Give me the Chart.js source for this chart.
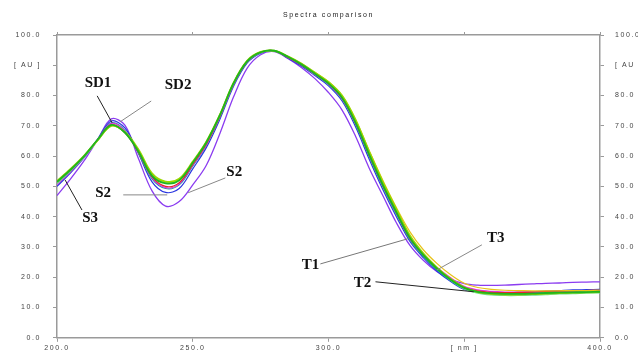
<!DOCTYPE html>
<html>
<head>
<meta charset="utf-8">
<script src="https://cdn.jsdelivr.net/npm/chart.js@4.4.1/dist/chart.umd.min.js"></script>
<style>
html,body{margin:0;padding:0;background:#fff;}
#wrap{width:638px;height:354px;position:relative;}
</style>
</head>
<body>
<div id="wrap"><canvas id="c" width="638" height="354"></canvas></div>
<script>
// ---- data ----
const wavelengths = [200,205,210,215,220,225,230,235,240,245,250,255,260,265,270,275,280,285,290,295,300,305,310,315,320,325,330,335,340,345,350,355,360,365,370,375,380,385,390,395,400];
const xTickLabels = {200:"200.0",250:"250.0",300:"300.0",350:"[ nm ]",400:"400.0"};
const yTickLabels = {0:"0.0",10:"10.0",20:"20.0",30:"30.0",40:"40.0",50:"50.0",60:"60.0",70:"70.0",80:"80.0",90:"[ AU ]",100:"100.0"};
const titleText = "Spectra comparison";

const seriesGreen   = [51.5,55.5,60,65.5,70.3,67.8,61.5,53.5,51,52,57.8,64.5,73.5,84,91.3,94.3,94.8,92.8,90.3,87.2,84,79.3,71,60.5,50.5,41.5,33,27.3,22.8,19.2,16.5,15.2,14.7,14.5,14.5,14.6,14.8,14.9,15,15.1,15.2];
const seriesLime    = [51.8,55.8,60.2,65.3,70,68,62.2,54.3,51.6,52.5,58.2,64.8,73.7,84.2,91.5,94.4,94.8,93,90.6,87.6,84.5,80,72,61.5,51.5,42.5,33.8,27.8,23.2,19.4,16.6,15.1,14.5,14.3,14.3,14.4,14.6,14.8,14.9,15,15.1];
const seriesLtGreen = [51,55.2,59.8,65.2,70.1,67.8,61.8,53.8,51.2,52.2,57.9,64.6,73.5,84,91.3,94.3,94.8,92.9,90.4,87.3,84.2,79.6,71.4,61,51,42,33.4,27.4,22.8,19,16.2,14.8,14.2,14,14,14.1,14.3,14.5,14.6,14.8,14.9];
const seriesYellow  = [51.3,55.4,59.9,65.1,70,67.8,62,54,51.3,52.3,58,64.6,73.6,84.1,91.4,94.4,94.8,93,90.6,87.6,84.6,80,72,61.8,52,43,35,29,24.5,20.8,18,16.6,16,15.7,15.6,15.5,15.5,15.5,15.6,15.6,15.7];
const seriesRed     = [51.3,55.4,60,65.4,70.4,67.8,61.3,53.2,50,51.2,57.3,64,73.2,83.8,91.2,94.2,94.8,92.7,90.2,87.2,84,79.2,70.9,60.4,50.4,41.4,32.8,27.2,22.8,19.4,16.7,15.5,15,14.9,15,15.1,15.3,15.4,15.5,15.6,15.7];
const seriesMagenta = [50.6,54.9,59.7,65.4,70.8,68.3,61.2,52.8,49.6,50.8,57,63.7,73,83.6,91.1,94.2,94.8,92.6,90.1,87,83.8,79,70.7,60.2,50.2,41.2,32.8,27.4,23.2,19.8,17,15.8,15.3,15.1,15.1,15.2,15.3,15.4,15.5,15.6,15.7];
const seriesTeal    = [51,55.2,59.8,65.5,71,68.5,61,52.5,49.3,50.5,56.8,63.5,72.8,83.5,91,94.1,94.8,92.6,90.1,87,83.7,78.8,70.4,59.8,49.8,40.8,32.3,26.8,22.4,18.9,16.2,15.1,14.7,14.7,14.8,14.9,15.1,15.3,15.4,15.6,15.8];
const seriesBlue    = [50,54.5,59.5,65.6,71.6,69.3,60.9,51.5,48,49.3,55.8,62.8,72.2,83,90.7,94,94.8,92.4,89.8,86.6,83.2,78.2,69.6,59,49,40,31.8,26.4,22,18.6,16,15.2,14.9,14.9,15,15.2,15.4,15.6,15.8,15.9,16];
const seriesPurple  = [47,52.5,58.5,65.5,72.3,70.2,59.2,48.5,43.5,45,50.5,57,67.5,79.5,89,93.5,94.5,92.3,89.3,85.6,81,75.2,66.5,56,47,38,30.5,25.5,21.8,19.3,17.9,17.4,17.3,17.4,17.6,17.8,18,18.1,18.3,18.4,18.5];

// annotation labels: text, text anchor [nm, AU], pointer from / to [nm, AU]
const annotations = [
  {text:"SD1", at:[215.1,84.2], from:[214.8,79.9], to:[220.3,71.0], line:"#222"},
  {text:"SD2", at:[244.6,83.5], from:[234.7,78.2], to:[223.2,71.3], line:"#888"},
  {text:"S2",  at:[217.0,47.9], from:[224.4,47.2], to:[240.6,47.2], line:"#888"},
  {text:"S2",  at:[265.3,54.8], from:[262.0,52.8], to:[248.3,47.9], line:"#888"},
  {text:"S3",  at:[212.2,39.6], from:[209.2,42.2], to:[203.0,52.1], line:"#222"},
  {text:"T1",  at:[293.4,24.1], from:[297.0,24.4], to:[329.2,32.7], line:"#777"},
  {text:"T2",  at:[312.5,18.2], from:[317.3,18.5], to:[353.5,15.2], line:"#222"},
  {text:"T3",  at:[361.6,33.0], from:[356.5,30.7], to:[339.9,22.4], line:"#888"}
];

// ---- styles ----
const seriesList = [
  {v:seriesGreen,   c:"#1fb51f", w:1.8},
  {v:seriesLime,    c:"#9bd800", w:1.8},
  {v:seriesLtGreen, c:"#6fdc8f", w:1.4},
  {v:seriesYellow,  c:"#e9c21a", w:1.2},
  {v:seriesRed,     c:"#e52626", w:1.2},
  {v:seriesMagenta, c:"#dd33dd", w:1.2},
  {v:seriesTeal,    c:"#14a0a4", w:1.2},
  {v:seriesBlue,    c:"#2a36e0", w:1.2},
  {v:seriesPurple,  c:"#8b3cf0", w:1.3}
];

const datasets = seriesList.map(s => ({
  data: wavelengths.map((w,i) => ({x:w, y:s.v[i]})),
  borderColor: s.c,
  borderWidth: s.w,
  pointRadius: 0,
  fill: false,
  tension: 0.35
}));

const labelFont = {family:"'Liberation Sans', Arial, sans-serif", size:7};
const axisColor = "#9a9a9a";

const fixedSize = (dim, val) => (scale) => { scale[dim] = val; };

const overlay = {
  id:"overlay",
  beforeDraw(chart){ chart.ctx.letterSpacing = "1.6px"; },
  afterDraw(chart){
    const ctx = chart.ctx, xs = chart.scales.x, ys = chart.scales.y;
    ctx.save();
    // title
    ctx.letterSpacing = "1.6px";
    ctx.fillStyle = "#222";
    ctx.font = "7px 'Liberation Sans', Arial, sans-serif";
    ctx.textAlign = "center";
    ctx.textBaseline = "middle";
    ctx.fillText(titleText, (chart.chartArea.left + chart.chartArea.right)/2, 15);
    // annotations
    ctx.letterSpacing = "0px";
    annotations.forEach(a => {
      ctx.strokeStyle = a.line;
      ctx.lineWidth = 1;
      ctx.beginPath();
      ctx.moveTo(xs.getPixelForValue(a.from[0]), ys.getPixelForValue(a.from[1]));
      ctx.lineTo(xs.getPixelForValue(a.to[0]), ys.getPixelForValue(a.to[1]));
      ctx.stroke();
      ctx.fillStyle = "#111";
      ctx.font = "bold 15px 'Liberation Serif', 'Times New Roman', serif";
      ctx.textAlign = "center";
      ctx.textBaseline = "middle";
      ctx.fillText(a.text, xs.getPixelForValue(a.at[0]), ys.getPixelForValue(a.at[1]));
    });
    ctx.restore();
  }
};

new Chart(document.getElementById("c"), {
  type:"line",
  data:{datasets},
  options:{
    responsive:false,
    animation:false,
    layout:{padding:0},
    plugins:{legend:{display:false}, tooltip:{enabled:false}, title:{display:false}},
    scales:{
      x:{
        type:"linear", position:"bottom", min:200, max:400,
        afterFit: fixedSize("height", 16),
        ticks:{stepSize:50, padding:2, color:"#444", font:labelFont, maxRotation:0,
               callback:(v)=> xTickLabels[v] ?? ""},
        grid:{drawOnChartArea:false, drawTicks:true, tickLength:4, color:axisColor},
        border:{color:axisColor, width:1.5}
      },
      x2:{
        type:"linear", position:"top", min:200, max:400,
        afterFit: fixedSize("height", 35),
        ticks:{stepSize:50, display:false},
        grid:{drawOnChartArea:false, drawTicks:true, tickLength:3, color:axisColor},
        border:{color:axisColor, width:1.5}
      },
      y:{
        type:"linear", position:"left", min:0, max:100,
        afterFit: fixedSize("width", 57),
        ticks:{stepSize:10, padding:12, color:"#444", font:labelFont,
               callback:(v)=> yTickLabels[v] ?? ""},
        grid:{drawOnChartArea:false, drawTicks:true, tickLength:4, color:axisColor},
        border:{color:axisColor, width:1.5}
      },
      y2:{
        type:"linear", position:"right", min:0, max:100,
        afterFit: fixedSize("width", 38),
        ticks:{stepSize:10, padding:11, color:"#444", font:labelFont,
               callback:(v)=> yTickLabels[v] ?? ""},
        grid:{drawOnChartArea:false, drawTicks:true, tickLength:4, color:axisColor},
        border:{color:axisColor, width:1.5}
      }
    }
  },
  plugins:[overlay]
});
</script>
</body>
</html>
